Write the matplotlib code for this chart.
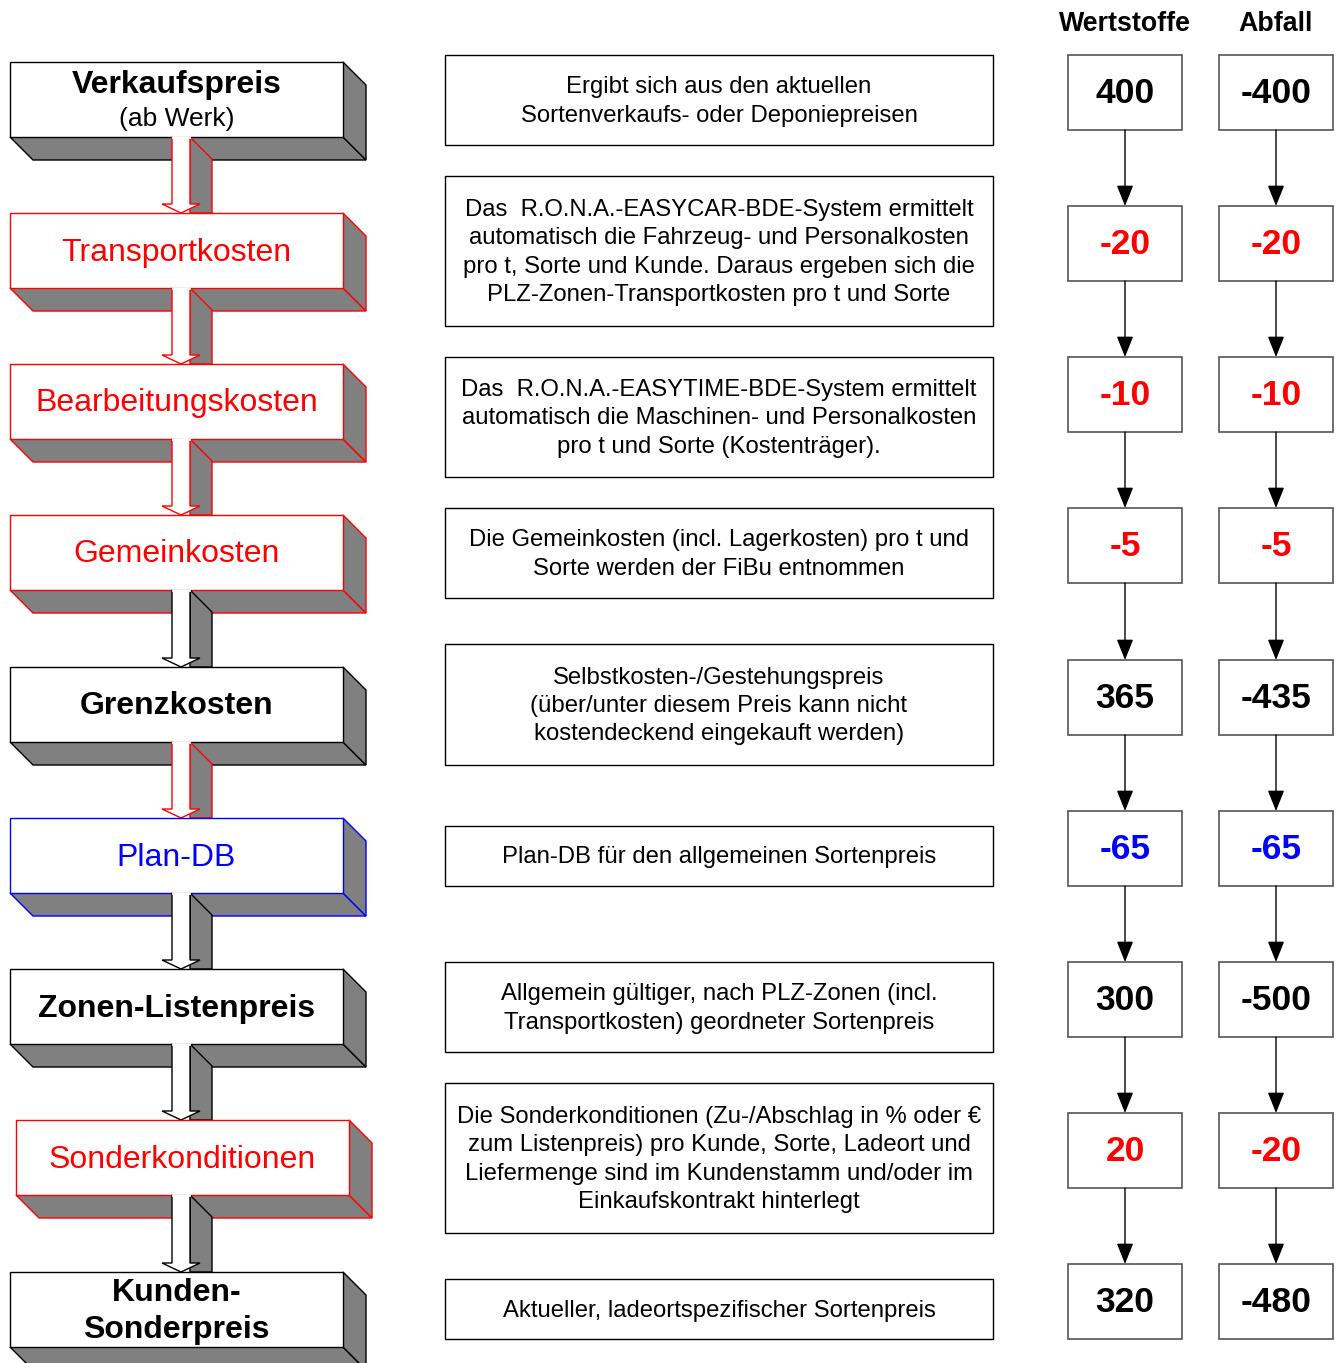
import matplotlib
matplotlib.use('Agg')
import matplotlib.pyplot as plt
from matplotlib.patches import Polygon, Rectangle

matplotlib.rc('font', family=['Liberation Sans', 'DejaVu Sans'])

# chart content
stages = ['Verkaufspreis', 'Transportkosten', 'Bearbeitungskosten', 'Gemeinkosten',
          'Grenzkosten', 'Plan-DB', 'Zonen-Listenpreis', 'Sonderkonditionen',
          'Kunden-\nSonderpreis']
stage_sub = ['(ab Werk)', '', '', '', '', '', '', '', '']
stage_bold = [True, False, False, False, True, False, True, False, True]
stage_colors = ['black', 'red', 'red', 'red', 'black', 'blue', 'black', 'red', 'black']
arrow_colors = ['red', 'red', 'red', 'black', 'red', 'black', 'black', 'black']

descriptions = [
    'Ergibt sich aus den aktuellen\nSortenverkaufs- oder Deponiepreisen',
    'Das  R.O.N.A.-EASYCAR-BDE-System ermittelt\nautomatisch die Fahrzeug- und Personalkosten\n'
    'pro t, Sorte und Kunde. Daraus ergeben sich die\nPLZ-Zonen-Transportkosten pro t und Sorte',
    'Das  R.O.N.A.-EASYTIME-BDE-System ermittelt\nautomatisch die Maschinen- und Personalkosten\n'
    'pro t und Sorte (Kostenträger).',
    'Die Gemeinkosten (incl. Lagerkosten) pro t und\nSorte werden der FiBu entnommen',
    'Selbstkosten-/Gestehungspreis\n(über/unter diesem Preis kann nicht\nkostendeckend eingekauft werden)',
    'Plan-DB für den allgemeinen Sortenpreis',
    'Allgemein gültiger, nach PLZ-Zonen (incl.\nTransportkosten) geordneter Sortenpreis',
    'Die Sonderkonditionen (Zu-/Abschlag in % oder €\nzum Listenpreis) pro Kunde, Sorte, Ladeort und\n'
    'Liefermenge sind im Kundenstamm und/oder im\nEinkaufskontrakt hinterlegt',
    'Aktueller, ladeortspezifischer Sortenpreis',
]

columns = ['Wertstoffe', 'Abfall']
wertstoffe = [400, -20, -10, -5, 365, -65, 300, 20, 320]
abfall = [-400, -20, -10, -5, -435, -65, -500, -20, -480]
value_colors = ['black', 'red', 'red', 'red', 'black', 'blue', 'black', 'red', 'black']

# layout (pixels)
W, H = 1338, 1363
left_tops = [62, 213, 364, 515, 667, 818, 969, 1120, 1272]
left_x = [10, 10, 10, 10, 10, 10, 10, 16, 10]
bw, bh, d = 333, 75, 23
grey = '#808080'

desc_boxes = [(55, 145), (176, 326), (357, 477), (508, 598), (644, 765),
              (826, 886), (962, 1052), (1083, 1233), (1279, 1339)]
desc_x0, desc_x1 = 445, 993

val_tops = [55, 206, 357, 508, 660, 811, 962, 1113, 1264]
val_x = [1068, 1219]
vw, vh = 114, 75

fig = plt.figure(figsize=(W / 100, H / 100), dpi=100)
ax = fig.add_axes([0, 0, 1, 1])
ax.set_xlim(0, W)
ax.set_ylim(H, 0)
ax.axis('off')


def draw_box(i, z):
    x, y, c = left_x[i], left_tops[i], stage_colors[i]
    kw = dict(facecolor=grey, edgecolor=c, lw=1, zorder=z, joinstyle='miter')
    ax.add_patch(Polygon([(x, y + bh), (x + bw, y + bh), (x + bw + d, y + bh + d),
                          (x + d, y + bh + d)], closed=True, **kw))
    ax.add_patch(Polygon([(x + bw, y), (x + bw + d, y + d), (x + bw + d, y + bh + d),
                          (x + bw, y + bh)], closed=True, **kw))
    ax.add_patch(Rectangle((x, y), bw, bh, facecolor='white', edgecolor=c, lw=1,
                           zorder=z + 0.5))
    cx = x + bw / 2
    wt = 'bold' if stage_bold[i] else 'normal'
    if stage_sub[i]:
        ax.text(cx, y + 23, stages[i], ha='center', va='center', fontsize=23,
                fontweight=wt, color=c, zorder=z + 1)
        ax.text(cx, y + 57, stage_sub[i], ha='center', va='center', fontsize=19,
                color=c, zorder=z + 1)
    else:
        ax.text(cx, y + bh / 2 + 2, stages[i], ha='center', va='center', fontsize=23,
                fontweight=wt, color=c, zorder=z + 1, linespacing=1.27)


def draw_arrow(i, z):
    c = arrow_colors[i]
    bot = left_tops[i] + bh
    tip = left_tops[i + 1]
    hy = tip - 9
    x0, x1 = 172, 190
    ax.add_patch(Polygon([(x1, bot), (x1 + 22, bot + 22), (x1 + 22, tip), (x1, tip)],
                         closed=True, facecolor=grey, edgecolor=c, lw=1, zorder=z))
    ax.add_patch(Polygon([(x0, bot), (x1, bot), (x1, hy), (x1 + 10, hy), (181, tip),
                          (x0 - 10, hy), (x0, hy)], closed=True, facecolor='white',
                         edgecolor=c, lw=1, zorder=z + 0.5))
    # cover the top edge so the shaft reads as coming out of the box
    ax.plot([x0 + 0.8, x1 - 0.8], [bot, bot], color='white', lw=2, zorder=z + 0.6)


for i in range(len(stages)):
    draw_box(i, 2 + 3 * i)
    if i < len(stages) - 1:
        draw_arrow(i, 3.5 + 3 * i)

# descriptions
for (t, b), txt in zip(desc_boxes, descriptions):
    ax.add_patch(Rectangle((desc_x0, t), desc_x1 - desc_x0, b - t, facecolor='white',
                           edgecolor='black', lw=1, zorder=2))
    ax.text((desc_x0 + desc_x1) / 2, (t + b) / 2 + 1.5, txt, ha='center', va='center',
            fontsize=17.2, linespacing=1.38, zorder=3)

# value columns
for x, name, vals in zip(val_x, columns, [wertstoffe, abfall]):
    cx = x + vw / 2
    ax.text(cx, 24, name, ha='center', va='center', fontsize=19.3, fontweight='bold')
    for j, (t, v) in enumerate(zip(val_tops, vals)):
        ax.add_patch(Rectangle((x, t), vw, vh, facecolor='white', edgecolor='#555555',
                               lw=1.2, zorder=2))
        ax.text(cx, t + vh / 2 + 1, str(v), ha='center', va='center', fontsize=25.5,
                fontweight='bold', color=value_colors[j], zorder=3)
        if j < len(vals) - 1:
            ax.annotate('', xy=(cx, val_tops[j + 1]), xytext=(cx, t + vh),
                        arrowprops=dict(arrowstyle='-|>,head_length=0.8,head_width=0.32',
                                        color='black', lw=1, shrinkA=0, shrinkB=0,
                                        mutation_scale=16))

fig.savefig('out.png', dpi=100)
